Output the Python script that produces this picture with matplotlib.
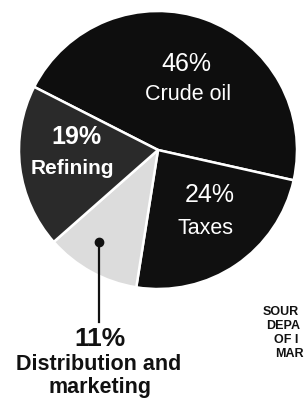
import matplotlib
matplotlib.use("Agg")
import matplotlib.pyplot as plt

categories = ["Crude oil", "Taxes", "Distribution and", "Refining"]
category_line2 = "marketing"
shares = [46, 24, 11, 19]
pct_labels = ["46%", "24%", "11%", "19%"]
source_lines = ["SOUR", "DEPA", "OF I", "MAR"]

W, H = 304, 403
fig = plt.figure(figsize=(W / 100, H / 100), dpi=100)
ax = fig.add_axes([0, 0, 1, 1])

def Y(y):
    return H - y

cx, cy, R = 158, 150, 139
colors = ["#0e0e0e", "#101010", "#dcdcdc", "#2a2a2a"]
ax.pie(shares, colors=colors, startangle=153, counterclock=False,
       center=(cx, Y(cy)), radius=R, frame=True,
       wedgeprops=dict(edgecolor="white", linewidth=1.8))
ax.set_xlim(0, W)
ax.set_ylim(0, H)
ax.set_aspect("equal")
ax.axis("off")

fam = ["Liberation Sans", "DejaVu Sans"]
# Crude oil
ax.text(186, Y(64), pct_labels[0], color="white", fontsize=18, ha="center", va="center", family=fam)
ax.text(188, Y(94), categories[0], color="white", fontsize=15.5, ha="center", va="center", family=fam)
# Refining
ax.text(76, Y(137), pct_labels[3], color="white", fontsize=18, fontweight="bold", ha="center", va="center", family=fam)
ax.text(72, Y(168), categories[3], color="white", fontsize=15, fontweight="bold", ha="center", va="center", family=fam)
# Taxes
ax.text(210, Y(195), pct_labels[1], color="white", fontsize=18, ha="center", va="center", family=fam)
ax.text(206, Y(228), categories[1], color="white", fontsize=15.5, ha="center", va="center", family=fam)

# Distribution leader + labels
ax.plot([99, 99], [Y(242), Y(322)], color="#111111", lw=1.6)
ax.plot([99], [Y(242)], marker="o", ms=6, color="#111111")
ax.text(100, Y(339), pct_labels[2], color="#111111", fontsize=19, fontweight="bold", ha="center", va="center", family=fam)
ax.text(99, Y(365), categories[2], color="#111111", fontsize=15.5, fontweight="bold", ha="center", va="center", family=fam)
ax.text(100, Y(388), category_line2, color="#111111", fontsize=15.5, fontweight="bold", ha="center", va="center", family=fam)

# Source note fragments (cut by the right edge in the reference)
xs = [263, 266, 274, 275]
ys = [312, 326, 340, 354]
for s, x, y in zip(source_lines, xs, ys):
    ax.text(x, Y(y), s, color="#111111", fontsize=9, fontweight="bold", ha="left", va="center", family=fam)

fig.savefig("out.png", dpi=100)
